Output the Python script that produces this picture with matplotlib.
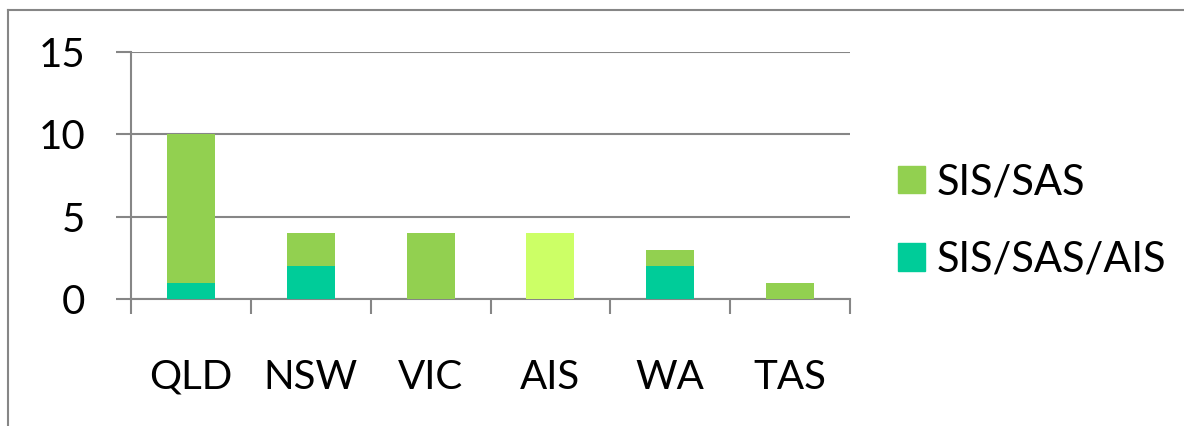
import matplotlib
matplotlib.use("Agg")
import matplotlib.pyplot as plt
from matplotlib.patches import Patch
from matplotlib.lines import Line2D

categories = ["QLD", "NSW", "VIC", "AIS", "WA", "TAS"]
sis_sas_ais = [1, 2, 0, 0, 2, 0]
sis_sas = [9, 2, 4, 4, 1, 1]
yticks = [0, 5, 10, 15]

c_green = "#92D050"
c_teal = "#00CC99"
c_light = "#CCFF66"
grey = "#868686"

plt.rcParams['font.family'] = ['Lato', 'DejaVu Sans']

fig = plt.figure(figsize=(11.84, 4.26), dpi=100)
ax = fig.add_axes([131/1184, 1-299/426, (850-131)/1184, (299-52)/426])

x = list(range(len(categories)))
top_colors = [c_light if c == "AIS" else c_green for c in categories]
ax.bar(x, sis_sas_ais, width=0.4, color=c_teal, zorder=3)
ax.bar(x, sis_sas, bottom=sis_sas_ais, width=0.4, color=top_colors, zorder=3)

ax.set_xlim(-0.5, len(categories)-0.5)
ax.set_ylim(0, 15)
ax.set_yticks(yticks)
ax.set_yticklabels([str(v) for v in yticks])
ax.yaxis.grid(True, color=grey, linewidth=1.5, zorder=0)
ax.set_axisbelow(True)

ax.set_xticks([i - 0.5 for i in range(len(categories)+1)], minor=True)
ax.set_xticks(x)
ax.set_xticklabels(categories)
ax.tick_params(axis='x', which='major', length=0, pad=43, labelsize=29)
ax.tick_params(axis='x', which='minor', length=11, width=1.5, color=grey)
ax.tick_params(axis='y', length=11, width=1.5, color=grey, pad=22, labelsize=29)

for s in ['top', 'right']:
    ax.spines[s].set_visible(False)
for s in ['left', 'bottom']:
    ax.spines[s].set_color(grey)
    ax.spines[s].set_linewidth(1.5)

handles = [Patch(color=c_green), Patch(color=c_teal)]
fig.legend(handles, ["SIS/SAS", "SIS/SAS/AIS"], loc='center left',
           bbox_to_anchor=(860/1184, 1-221/426), frameon=False, fontsize=30,
           handlelength=0.65, handleheight=0.65, handletextpad=0.3, labelspacing=0.95)

# outer border (top and left edges visible)
fig.add_artist(Line2D([8/1184, 1.0], [1-10/426, 1-10/426], transform=fig.transFigure, color=grey, linewidth=1.5))
fig.add_artist(Line2D([8/1184, 8/1184], [0, 1-10/426], transform=fig.transFigure, color=grey, linewidth=1.5))

fig.savefig("out.png", dpi=100)
